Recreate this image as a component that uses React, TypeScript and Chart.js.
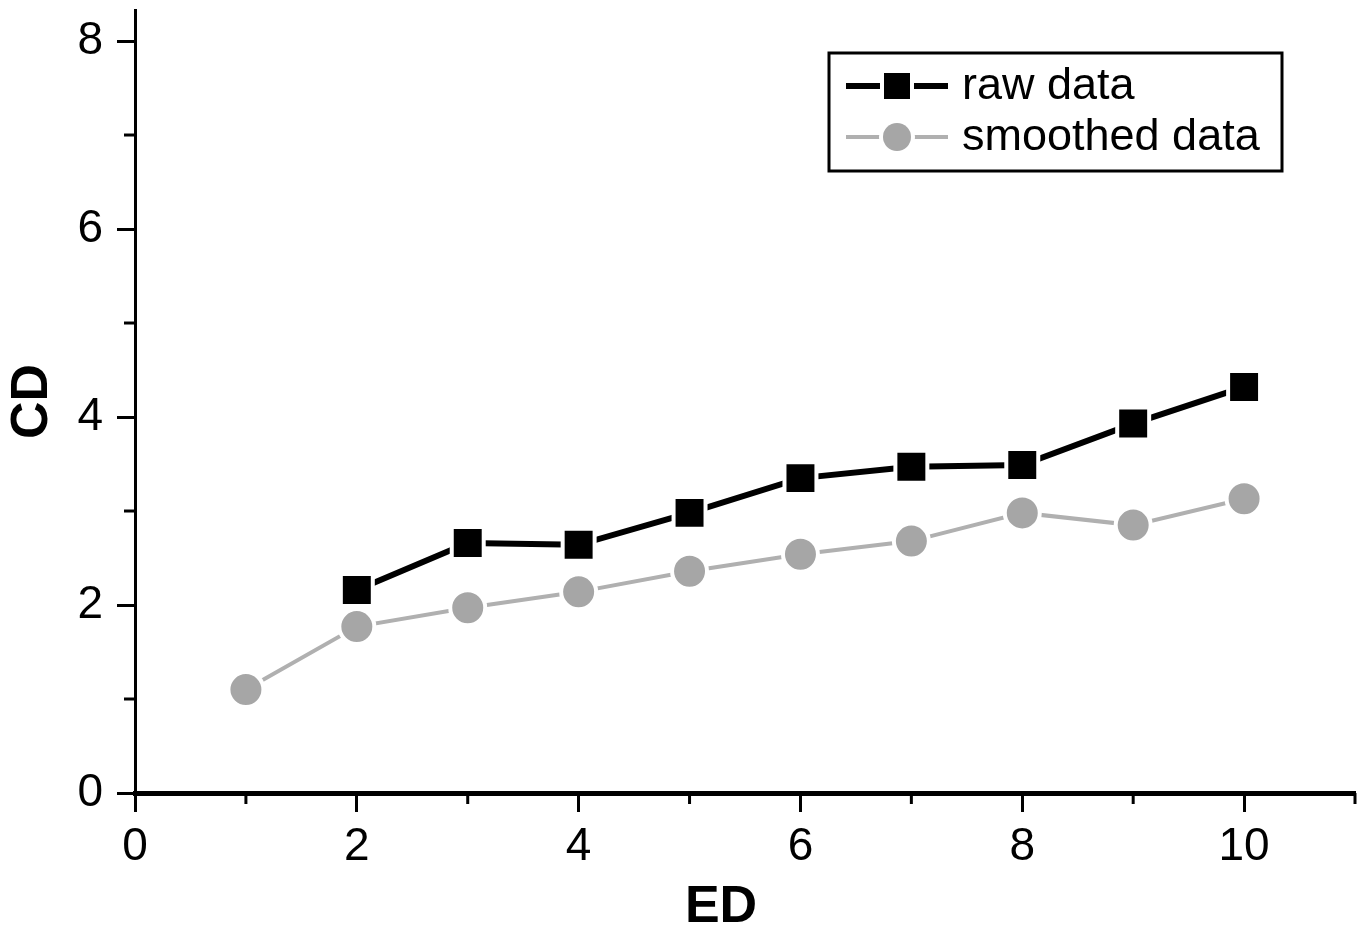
import React, { useEffect, useRef } from "react";
import { Chart, registerables } from "chart.js";

Chart.register(...registerables);

const xValues = [1, 2, 3, 4, 5, 6, 7, 8, 9, 10];
const rawData: (number | null)[] = [null, 2.16, 2.66, 2.64, 2.98, 3.35, 3.47, 3.49, 3.93, 4.32];
const smoothedData = [1.1, 1.77, 1.97, 2.14, 2.36, 2.54, 2.68, 2.98, 2.85, 3.13];
const xMajorTicks = [0, 2, 4, 6, 8, 10];
const xMinorTicks = [1, 3, 5, 7, 9, 11];
const yMajorTicks = [0, 2, 4, 6, 8];
const yMinorTicks = [1, 3, 5, 7];
const seriesLabels = ["raw data", "smoothed data"];
const xTitle = "ED";
const yTitle = "CD";

const FONT = "'Liberation Sans', Arial, Helvetica, sans-serif";
const RAW_COLOR = "#000000";
const SMOOTH_COLOR = "#a6a6a6";
const SMOOTH_LINE = "#b0b0b0";

const minorTicksPlugin = {
  id: "minorTicks",
  afterDraw(chart: any) {
    const ctx = chart.ctx;
    const xs = chart.scales.x;
    const ys = chart.scales.y;
    const area = chart.chartArea;
    ctx.save();
    ctx.strokeStyle = "#000";
    ctx.lineWidth = 3;
    xMinorTicks.forEach((v) => {
      const px = xs.getPixelForValue(v);
      ctx.beginPath();
      ctx.moveTo(px, area.bottom);
      ctx.lineTo(px, area.bottom + 11);
      ctx.stroke();
    });
    yMinorTicks.forEach((v) => {
      const py = ys.getPixelForValue(v);
      ctx.beginPath();
      ctx.moveTo(area.left, py);
      ctx.lineTo(area.left - 11, py);
      ctx.stroke();
    });
    // x axis title (placed slightly left of centre, as in the reference)
    ctx.fillStyle = "#000";
    ctx.font = `bold 52px ${FONT}`;
    ctx.textAlign = "center";
    ctx.textBaseline = "alphabetic";
    ctx.fillText(xTitle, 721, 922);
    ctx.restore();
  },
};

const legendPlugin = {
  id: "customLegend",
  afterDraw(chart: any) {
    const ctx = chart.ctx;
    ctx.save();
    const bx = 829, by = 53, bw = 453, bh = 118;
    ctx.strokeStyle = "#000";
    ctx.lineWidth = 3;
    ctx.strokeRect(bx, by, bw, bh);
    const rows = [
      { label: seriesLabels[0], y: 86, color: RAW_COLOR, line: RAW_COLOR, lw: 6, shape: "rect" },
      { label: seriesLabels[1], y: 137, color: SMOOTH_COLOR, line: SMOOTH_LINE, lw: 4, shape: "circle" },
    ];
    rows.forEach((r) => {
      ctx.strokeStyle = r.line;
      ctx.lineWidth = r.lw;
      ctx.beginPath();
      ctx.moveTo(846, r.y);
      ctx.lineTo(948, r.y);
      ctx.stroke();
      ctx.fillStyle = "#fff";
      if (r.shape === "rect") {
        ctx.fillRect(897 - 17, r.y - 17, 34, 34);
        ctx.fillStyle = r.color;
        ctx.fillRect(897 - 13, r.y - 13, 26, 26);
      } else {
        ctx.beginPath();
        ctx.arc(897, r.y, 18, 0, Math.PI * 2);
        ctx.fill();
        ctx.fillStyle = r.color;
        ctx.beginPath();
        ctx.arc(897, r.y, 14, 0, Math.PI * 2);
        ctx.fill();
      }
      ctx.fillStyle = "#000";
      ctx.font = `45px ${FONT}`;
      ctx.textBaseline = "middle";
      ctx.textAlign = "left";
      ctx.fillText(r.label, 962, r.y + 1);
    });
    ctx.restore();
  },
};

export default function App() {
  const canvasRef = useRef<HTMLCanvasElement | null>(null);

  useEffect(() => {
    document.body.style.margin = "0";
    const canvas = canvasRef.current;
    if (!canvas) return;
    const rawPoints = xValues
      .map((x, i) => ({ x, y: rawData[i] }))
      .filter((p) => p.y !== null) as { x: number; y: number }[];
    const smoothPoints = xValues.map((x, i) => ({ x, y: smoothedData[i] }));

    const zeroPad = (scale: any) => {
      scale.paddingTop = 0;
      scale.paddingBottom = 0;
      scale.paddingLeft = 0;
      scale.paddingRight = 0;
    };

    const chart = new Chart(canvas, {
      type: "line",
      data: {
        datasets: [
          {
            label: seriesLabels[1],
            data: smoothPoints,
            borderColor: SMOOTH_LINE,
            borderWidth: 4,
            pointStyle: "circle",
            pointRadius: 17.5,
            pointBackgroundColor: SMOOTH_COLOR,
            pointBorderColor: "#ffffff",
            pointBorderWidth: 4,
            tension: 0,
          },
          {
            label: seriesLabels[0],
            data: rawPoints,
            borderColor: RAW_COLOR,
            borderWidth: 6,
            pointStyle: "rect",
            pointRadius: 22.6,
            pointBackgroundColor: RAW_COLOR,
            pointBorderColor: "#ffffff",
            pointBorderWidth: 4,
            tension: 0,
          },
        ],
      },
      options: {
        responsive: false,
        animation: false,
        events: [],
        layout: { autoPadding: false, padding: { top: 10, right: 14, bottom: 0, left: 0 } },
        plugins: {
          legend: { display: false },
          tooltip: { enabled: false },
        },
        scales: {
          x: {
            type: "linear",
            min: 0,
            max: 11,
            afterBuildTicks: (scale: any) => {
              scale.ticks = xMajorTicks.map((v) => ({ value: v }));
            },
            afterFit: (scale: any) => {
              scale.height = 136;
              zeroPad(scale);
            },
            ticks: {
              color: "#000",
              font: { family: FONT, size: 46 },
              padding: 8,
              autoSkip: false,
              maxRotation: 0,
              callback: (v: any) => String(v),
            },
            grid: {
              drawOnChartArea: false,
              drawTicks: true,
              tickLength: 19,
              tickWidth: 3,
              tickColor: "#000",
            },
            border: { display: true, color: "#000", width: 5 },
            title: { display: false },
          },
          y: {
            type: "linear",
            min: 0,
            max: 8.33,
            afterBuildTicks: (scale: any) => {
              scale.ticks = yMajorTicks.map((v) => ({ value: v }));
            },
            afterFit: (scale: any) => {
              scale.width = 135;
              zeroPad(scale);
            },
            ticks: {
              color: "#000",
              font: { family: FONT, size: 46 },
              padding: 14,
              callback: (v: any) => String(v),
            },
            grid: {
              drawOnChartArea: false,
              drawTicks: true,
              tickLength: 18,
              tickWidth: 3,
              tickColor: "#000",
            },
            border: { display: true, color: "#000", width: 3 },
            title: {
              display: true,
              text: yTitle,
              color: "#000",
              font: { family: FONT, size: 52, weight: "bold", lineHeight: 1 },
              padding: { top: 7, bottom: 0 },
            },
          },
        },
      },
      plugins: [minorTicksPlugin, legendPlugin],
    } as any);

    return () => {
      chart.destroy();
    };
  }, []);

  return (
    <div style={{ position: "absolute", left: 0, top: 0, width: 1369, height: 929, background: "#fff" }}>
      <canvas ref={canvasRef} width={1369} height={929} style={{ display: "block" }} />
    </div>
  );
}
